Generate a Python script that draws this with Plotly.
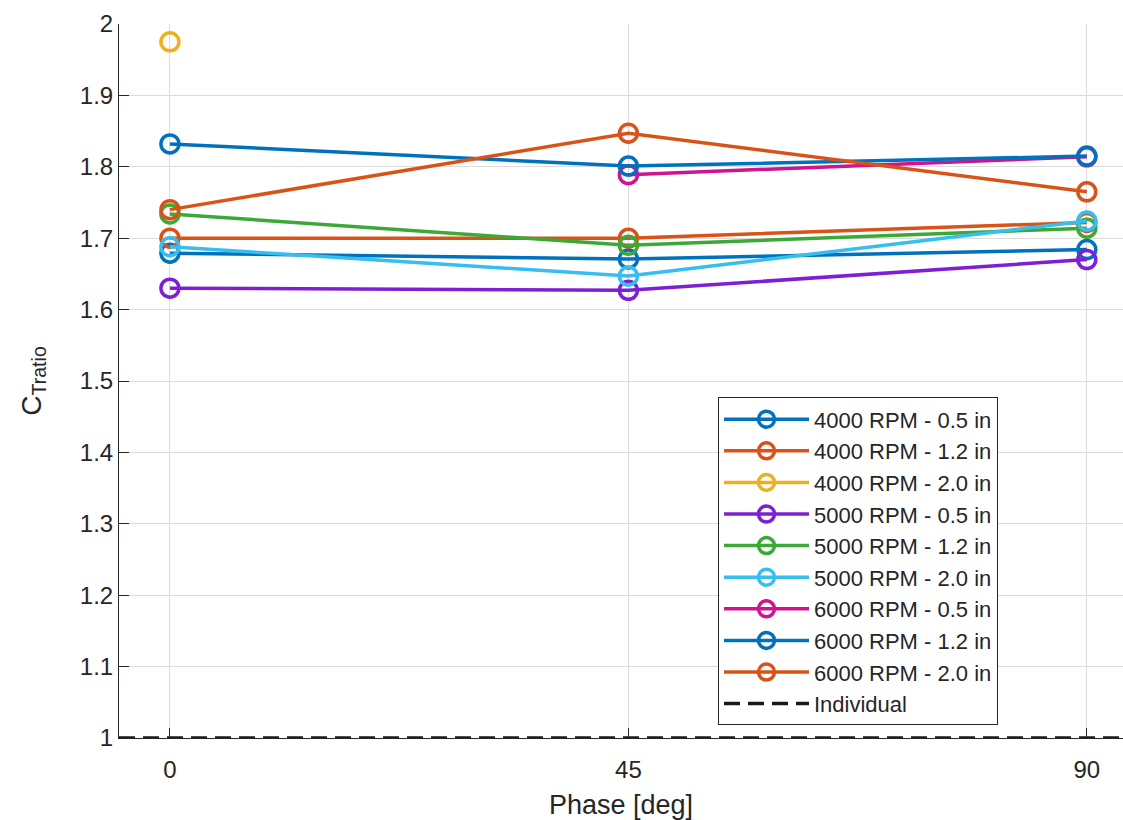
import plotly.graph_objects as go

phase = [0, 45, 90]

series_names = [
    "4000 RPM - 0.5 in", "4000 RPM - 1.2 in", "4000 RPM - 2.0 in",
    "5000 RPM - 0.5 in", "5000 RPM - 1.2 in", "5000 RPM - 2.0 in",
    "6000 RPM - 0.5 in", "6000 RPM - 1.2 in", "6000 RPM - 2.0 in",
]
rpm4000_05 = [1.679, 1.671, 1.684]
rpm4000_12 = [1.700, 1.700, 1.722]
rpm4000_20 = [1.975, None, None]
rpm5000_05 = [1.630, 1.627, 1.670]
rpm5000_12 = [1.734, 1.690, 1.714]
rpm5000_20 = [1.688, 1.647, 1.724]
rpm6000_05 = [None, 1.789, 1.814]
rpm6000_12 = [1.832, 1.801, 1.815]
rpm6000_20 = [1.740, 1.847, 1.765]
series_values = [rpm4000_05, rpm4000_12, rpm4000_20,
                 rpm5000_05, rpm5000_12, rpm5000_20,
                 rpm6000_05, rpm6000_12, rpm6000_20]

colors = ["#0072BD", "#D95319", "#EDB120", "#7E1FD4", "#3CA838",
          "#35BEEE", "#D1138D", "#0072BD", "#D95319"]

individual_name = "Individual"
individual_ratio = 1.0
x_range = [-5, 93.55]
y_range = [1, 2]

FONT = "Liberation Sans, Arial, sans-serif"
TXT = "#262626"

fig = go.Figure()
for name, vals, col in zip(series_names, series_values, colors):
    fig.add_trace(go.Scatter(
        x=phase, y=vals, name=name, mode="lines+markers",
        line=dict(color=col, width=3.5),
        marker=dict(symbol="circle-open", size=18, color=col,
                    line=dict(width=3.5, color=col)),
        connectgaps=False,
    ))

fig.add_trace(go.Scatter(
    x=[x_range[0], x_range[1] + 5], y=[individual_ratio, individual_ratio],
    name=individual_name, mode="lines",
    line=dict(color="#1a1a1a", width=3.5, dash="16px,8px"),
    cliponaxis=False,
))

fig.update_layout(
    width=1123, height=820,
    margin=dict(l=119, r=0, t=24, b=82),
    paper_bgcolor="white", plot_bgcolor="white",
    font=dict(family=FONT, size=22, color=TXT),
    showlegend=True,
    legend=dict(
        x=0.5966, y=0.477, xanchor="left", yanchor="top",
        bgcolor="white", bordercolor=TXT, borderwidth=1,
        font=dict(family=FONT, size=22, color=TXT),
        itemwidth=85, tracegroupgap=0,
    ),
)
fig.update_xaxes(
    range=x_range, tickvals=phase, ticks="inside", ticklen=10,
    tickcolor=TXT, tickwidth=1, ticklabelstandoff=10,
    showline=True, linecolor=TXT, linewidth=1, mirror=False,
    showgrid=True, gridcolor="#DCDCDC", gridwidth=1, zeroline=False,
    tickfont=dict(family=FONT, size=24, color=TXT),
    title=dict(text="Phase [deg]", font=dict(family=FONT, size=27, color=TXT), standoff=14),
)
fig.update_yaxes(
    range=y_range, dtick=0.1, tick0=1, ticks="inside", ticklen=10,
    tickcolor=TXT, tickwidth=1,
    showline=True, linecolor=TXT, linewidth=1, mirror=False,
    showgrid=True, gridcolor="#DCDCDC", gridwidth=1, zeroline=False,
    tickfont=dict(family=FONT, size=24, color=TXT),
    title=dict(text="C<sub>Tratio</sub>", font=dict(family=FONT, size=28, color=TXT), standoff=30),
)

fig.write_html("out.html")
